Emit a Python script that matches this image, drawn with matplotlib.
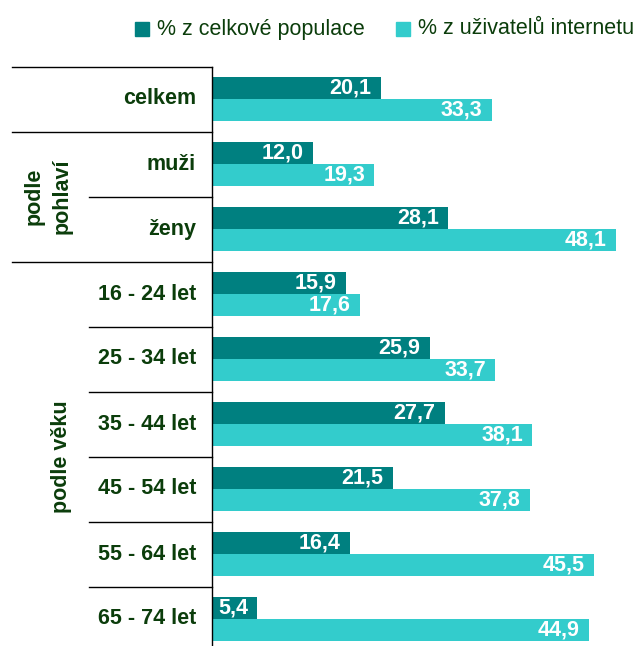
import matplotlib
matplotlib.use("Agg")
import matplotlib.pyplot as plt
from matplotlib.patches import Rectangle
import matplotlib.transforms as mtransforms

categories = ["celkem", "muži", "ženy", "16 - 24 let", "25 - 34 let",
              "35 - 44 let", "45 - 54 let", "55 - 64 let", "65 - 74 let"]
populace = [20.1, 12.0, 28.1, 15.9, 25.9, 27.7, 21.5, 16.4, 5.4]
internet = [33.3, 19.3, 48.1, 17.6, 33.7, 38.1, 37.8, 45.5, 44.9]
series_names = ["% z celkové populace", "% z uživatelů internetu"]
groups = [("podle\npohlaví", 1, 2), ("podle věku", 3, 8)]

plt.rcParams['font.family'] = ['Liberation Sans', 'DejaVu Sans']
TEAL = "#008080"
CYAN = "#33CCCC"
TXT = "#0b3d0b"
FS = 15.5

W, H = 637, 646
fig = plt.figure(figsize=(W / 100, H / 100), dpi=100)
ax_left, ax_top = 212, 66.5
ax = fig.add_axes([ax_left / W, 0, (W - ax_left) / W, (H - ax_top) / H])

n = len(categories)
ys = list(range(n))
h = 0.34
ax.barh([y - h / 2 for y in ys], populace, height=h, color=TEAL, label=series_names[0])
ax.barh([y + h / 2 for y in ys], internet, height=h, color=CYAN, label=series_names[1])

px_per_unit = 8.4
ax.set_xlim(0, (W - ax_left) / px_per_unit)
band_px = 65
ax.set_ylim(-0.5 + (H - ax_top) / band_px, -0.5)

for sp in ["top", "right", "bottom"]:
    ax.spines[sp].set_visible(False)
ax.spines["left"].set_color("black")
ax.spines["left"].set_linewidth(1.0)
ax.set_xticks([])
ax.set_yticks([])

# value labels
def fmt(v):
    return f"{v:.1f}".replace(".", ",")

off = 1.1
for y, v in zip(ys, populace):
    ax.text(v - off, y - h / 2, fmt(v), ha="right", va="center", color="white",
            fontsize=FS, fontweight="bold")
for y, v in zip(ys, internet):
    ax.text(v - off, y + h / 2, fmt(v), ha="right", va="center", color="white",
            fontsize=FS, fontweight="bold")

# category labels
trans = mtransforms.blended_transform_factory(ax.transAxes, ax.transData)
aw = W - ax_left
def xfrac(px):
    return (px - ax_left) / aw

for y, c in zip(ys, categories):
    ax.text(xfrac(196), y, c, ha="right", va="center", color=TXT,
            fontsize=FS, fontweight="bold", transform=trans)

# separator lines
group_starts = {0} | {g[1] for g in groups}
for i in range(n):
    x0 = 12 if i in group_starts else 89
    ax.plot([xfrac(x0), 0], [i - 0.5, i - 0.5], color="black", lw=1.0,
            transform=trans, clip_on=False)

# group labels
ax.text(xfrac(48), (groups[0][1] + groups[0][2]) / 2, groups[0][0], rotation=90,
        ha="center", va="center", multialignment="center", color=TXT,
        fontsize=FS, fontweight="bold", transform=trans, linespacing=1.45)
ax.text(xfrac(62), (groups[1][1] + groups[1][2] + 1) / 2 - 0.5, groups[1][0], rotation=90,
        ha="center", va="center", color=TXT,
        fontsize=FS, fontweight="bold", transform=trans)

# legend
leg_y = 1 - 29 / H
for x_sq, x_txt, col, name in [(135, 157, TEAL, series_names[0]),
                               (396, 418, CYAN, series_names[1])]:
    fig.patches.append(Rectangle((x_sq / W, 1 - 36 / H), 14 / W, 14 / H,
                                 transform=fig.transFigure, color=col))
    fig.text(x_txt / W, leg_y, name, ha="left", va="center", color=TXT, fontsize=FS)

fig.savefig("out.png", dpi=100)
